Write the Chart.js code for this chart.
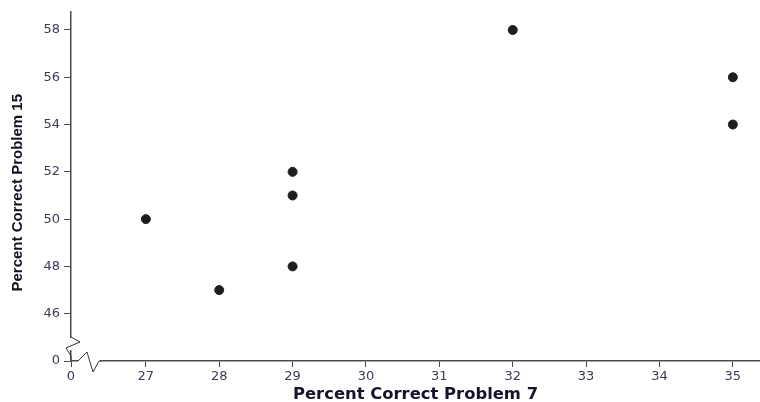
<!DOCTYPE html>
<html>
<head>
<meta charset="utf-8">
<script src="https://cdn.jsdelivr.net/npm/chart.js@4.4.1/dist/chart.umd.min.js"></script>
<style>
  html, body { margin: 0; padding: 0; background: #fff; }
  #wrap { width: 760px; height: 402px; position: relative; }
</style>
</head>
<body>
<div id="wrap"><canvas id="scatterChart" width="760" height="402"></canvas></div>
<script>
// data
var problem7 = [27, 28, 29, 29, 29, 32, 35, 35];
var problem15 = [50, 47, 52, 51, 48, 58, 56, 54];
var xTicks = [27, 28, 29, 30, 31, 32, 33, 34, 35];
var yTicks = [46, 48, 50, 52, 54, 56, 58];

// axis break: the "0" sits one step below the first real tick
var X_ZERO = 25.98;
var Y_ZERO = 44;

var points = problem7.map(function (x, i) {
  return { x: x, y: problem15[i] };
});

var tickColor = '#3b3b5c';
var axisColor = '#4a4a4a';

// draws the little zigzags on both axes near the origin
var breakPlugin = {
  id: 'axisBreaks',
  afterDraw: function (chart) {
    var ctx = chart.ctx;
    var a = chart.chartArea;
    var L = a.left, B = a.bottom;
    ctx.save();
    // cover axis line where the breaks are
    ctx.fillStyle = '#fff';
    ctx.fillRect(L - 2, B - 23, 4, 12);
    ctx.fillRect(L + 7, B - 2, 22, 4);
    ctx.strokeStyle = '#333';
    ctx.lineWidth = 1;
    // y axis break
    ctx.beginPath();
    ctx.moveTo(L, B - 24);
    ctx.lineTo(L + 9, B - 19);
    ctx.lineTo(L - 5, B - 13);
    ctx.lineTo(L, B - 5);
    ctx.lineTo(L, B - 1);
    ctx.stroke();
    // x axis break
    ctx.beginPath();
    ctx.moveTo(L + 7, B);
    ctx.lineTo(L + 16, B - 9);
    ctx.lineTo(L + 22, B + 11);
    ctx.lineTo(L + 28, B);
    ctx.lineTo(L + 30, B);
    ctx.stroke();
    ctx.restore();
  }
};

var ctx = document.getElementById('scatterChart');
var chart = new Chart(ctx, {
  type: 'scatter',
  data: {
    datasets: [{
      data: points,
      backgroundColor: '#1e1e1e',
      borderColor: '#1e1e1e',
      pointRadius: 4.5,
      pointHoverRadius: 4.5
    }]
  },
  options: {
    responsive: false,
    animation: false,
    devicePixelRatio: 1,
    layout: { autoPadding: false, padding: { top: 12, right: 0, left: 0, bottom: 0 } },
    plugins: {
      legend: { display: false },
      tooltip: { enabled: false }
    },
    scales: {
      x: {
        type: 'linear',
        min: X_ZERO,
        max: 35.37,
        afterBuildTicks: function (scale) {
          scale.ticks = [X_ZERO].concat(xTicks).map(function (v) { return { value: v }; });
        },
        afterFit: function (scale) {
          scale.height = 41;
        },
        grid: {
          display: true,
          drawOnChartArea: false,
          drawTicks: true,
          tickLength: 6,
          color: axisColor
        },
        border: { display: true, color: axisColor, width: 1.5 },
        ticks: {
          color: tickColor,
          font: { family: 'DejaVu Sans', size: 13 },
          padding: 2,
          maxRotation: 0,
          autoSkip: false,
          callback: function (v) { return v === X_ZERO ? '0' : v; }
        },
        title: {
          display: true,
          text: 'Percent Correct Problem 7',
          color: '#14142a',
          font: { family: 'DejaVu Sans', size: 16.4, weight: 'bold' },
          padding: { top: 0, bottom: -3 }
        }
      },
      y: {
        type: 'linear',
        min: Y_ZERO,
        max: 58.76,
        afterBuildTicks: function (scale) {
          scale.ticks = [Y_ZERO].concat(yTicks).map(function (v) { return { value: v }; });
        },
        afterFit: function (scale) {
          scale.width = 71;
        },
        grid: {
          display: true,
          drawOnChartArea: false,
          drawTicks: true,
          tickLength: 7,
          color: axisColor
        },
        border: { display: true, color: axisColor, width: 1.5 },
        ticks: {
          color: tickColor,
          font: { family: 'DejaVu Sans', size: 13 },
          padding: 4,
          autoSkip: false,
          callback: function (v) { return v === Y_ZERO ? '0' : v; }
        },
        title: {
          display: true,
          text: 'Percent Correct Problem 15   ',
          color: '#111122',
          font: { family: 'Liberation Sans', size: 15, weight: 'bold' },
          padding: { top: 9, bottom: 0 }
        }
      }
    }
  },
  plugins: [breakPlugin]
});
</script>
</body>
</html>
